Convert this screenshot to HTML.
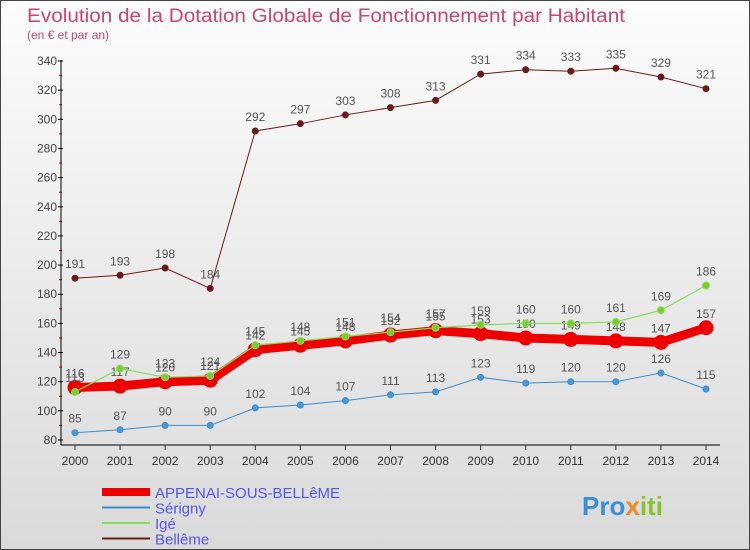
<!DOCTYPE html>
<html><head><meta charset="utf-8"><style>
body{margin:0;width:750px;height:550px;overflow:hidden;font-family:"Liberation Sans",sans-serif}
#c{position:absolute;left:0;top:0;width:748px;height:548px;border:1px solid #444;background:linear-gradient(#fcfcfc,#dadada)}
</style></head><body>
<div id="c">
<svg id="s" width="750" height="550" style="position:absolute;left:-1px;top:-1px"></svg>
</div>
<script>
const years=[2000,2001,2002,2003,2004,2005,2006,2007,2008,2009,2010,2011,2012,2013,2014];
const appenai=[116,117,120,121,142,145,148,152,155,153,150,149,148,147,157];
const ige=[113,129,123,124,145,148,151,154,157,159,160,160,161,169,186];
const serigny=[85,87,90,90,102,104,107,111,113,123,119,120,120,126,115];
const belleme=[191,193,198,184,292,297,303,308,313,331,334,333,335,329,321];
const yTicks=[80,100,120,140,160,180,200,220,240,260,280,300,320,340];
const NS="http://www.w3.org/2000/svg";
const s=document.getElementById('s');
const X=i=>75+i*(706-75)/14;
const Y=v=>440-(v-80)*(440-61)/260;
function el(t,a,p){const e=document.createElementNS(NS,t);for(const k in a)e.setAttribute(k,a[k]);(p||s).appendChild(e);return e;}
let t=el('text',{x:27,y:22,fill:'#c8456e','font-size':19,textLength:598,lengthAdjust:'spacingAndGlyphs'});t.textContent='Evolution de la Dotation Globale de Fonctionnement par Habitant';

t=el('text',{x:27,y:39,fill:'#c8456e','font-size':12});t.textContent='(en € et par an)';

yTicks.forEach(v=>{
 el('line',{x1:58,x2:63,y1:Y(v),y2:Y(v),stroke:'#000'});
 const l=el('text',{x:57,y:Y(v)+4,'text-anchor':'end','font-size':12,fill:'#444'});l.textContent=v;
 
 if(v<340)el('line',{x1:59,x2:62,y1:Y(v+10),y2:Y(v+10),stroke:'#e00'});
});
el('line',{x1:61,x2:61,y1:60,y2:445,stroke:'#000'});
el('line',{x1:61,x2:720,y1:445,y2:445,stroke:'#000'});
years.forEach((y,i)=>{
 el('line',{x1:X(i),x2:X(i),y1:445,y2:450,stroke:'#333'});
 const l=el('text',{x:X(i),y:465,'text-anchor':'middle','font-size':12,fill:'#333'});l.textContent=y;
 
});
function series(d,col,w,r,name,fill){
 const g=el('g',{});
 el('polyline',{points:d.map((v,i)=>X(i)+','+Y(v)).join(' '),fill:'none',stroke:col,'stroke-width':w},g);
 d.forEach((v,i)=>{
  const c=el('circle',{cx:X(i),cy:Y(v),r:r,fill:fill,stroke:col,'stroke-width':1},g);
  
  const l=el('text',{x:X(i),y:Y(v)-10,'text-anchor':'middle','font-size':12,fill:'#555'},g);l.textContent=v;
 });
}
series(belleme,'#6b1a1a',1,3,'series-belleme','#6b1a1a');
series(serigny,'#3c8ccc',1,3,'series-serigny','#4a98d8');
series(appenai,'#ee0000',9,7,'series-appenai','#ee0000');
series(ige,'#88dd55',1.2,3.5,'series-ige','#77cc33');
const leg=[['APPENAI-SOUS-BELLêME','#ee0000',8],['Sérigny','#3c8ccc',2],['Igé','#88dd55',2],['Bellême','#6b1a1a',2]];
leg.forEach((L,i)=>{
 const y=492+i*15.5;
 const g=el('g',{});
 el('line',{x1:102,x2:150,y1:y,y2:y,stroke:L[1],'stroke-width':L[2]},g);
 const tx=el('text',{x:155,y:y+6,'font-size':15,fill:'#5555ee'},g);tx.textContent=L[0];
});
const lg=el('text',{x:582,y:515,'font-size':26,'font-weight':'bold',fill:'#f08a20'});

lg.innerHTML='<tspan fill="#3b8fd8">Pro</tspan><tspan fill="#f08a20">x</tspan><tspan fill="#8ac030">iti</tspan>';
</script>
</body></html>
